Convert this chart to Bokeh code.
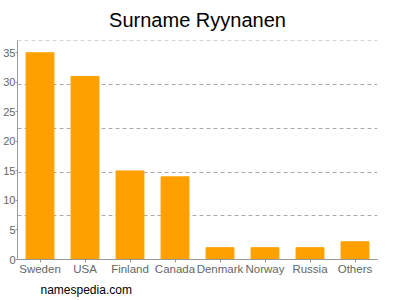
from bokeh.plotting import figure
from bokeh.models import Range1d, FixedTicker, Title, Grid
from bokeh.embed import file_html
from bokeh.resources import INLINE

countries = ["Sweden", "USA", "Finland", "Canada", "Denmark", "Norway", "Russia", "Others"]
counts = [35, 31, 15, 14, 2, 2, 2, 3]
y_max = 37
y_ticks = [0, 5, 10, 15, 20, 25, 30, 35]

FONT = "Liberation Sans"

p = figure(x_range=countries, y_range=Range1d(0, y_max + 0.08), width=400, height=300,
           output_backend="svg", toolbar_location=None,
           min_border_left=17, min_border_right=23, min_border_top=40, min_border_bottom=39)

p.vbar(x=countries, top=counts, width=0.62, color="#FFA000")

p.title.text = "Surname Ryynanen"
p.title.align = "center"
p.title.vertical_align = "top"
p.title.text_font = FONT
p.title.text_font_size = "20px"
p.title.text_font_style = "normal"
p.title.text_color = "#000000"
p.title.text_line_height = 0.6
p.title.offset = 0
p.title.standoff = 16

footer = Title(text="namespedia.com", align="left", text_font=FONT, text_font_size="12px",
               text_font_style="normal", text_color="#000000", offset=23, standoff=7)
p.add_layout(footer, "below")

p.outline_line_color = None
p.xgrid.grid_line_color = None
p.ygrid.grid_line_color = None
grid = Grid(dimension=1, ticker=FixedTicker(ticks=[y_max * k / 5 for k in range(1, 6)]),
            grid_line_color="#AAAAAA", grid_line_dash="4 3", grid_line_width=1)
p.add_layout(grid)

p.yaxis.ticker = FixedTicker(ticks=y_ticks)
for ax in (p.xaxis, p.yaxis):
    ax.axis_line_color = "#999999"
    ax.major_tick_line_color = "#999999"
    ax.minor_tick_line_color = None
    ax.major_tick_in = 0
    ax.major_tick_out = 3
    ax.major_label_text_font = FONT
    ax.major_label_text_color = "#666666"
    ax.major_label_standoff = 0
p.xaxis.major_label_text_font_size = "11.5px"
p.yaxis.major_label_text_font_size = "11px"
p.yaxis.major_tick_out = 2
p.x_range.range_padding = 0

open("out.html", "w").write(file_html(p, INLINE))
